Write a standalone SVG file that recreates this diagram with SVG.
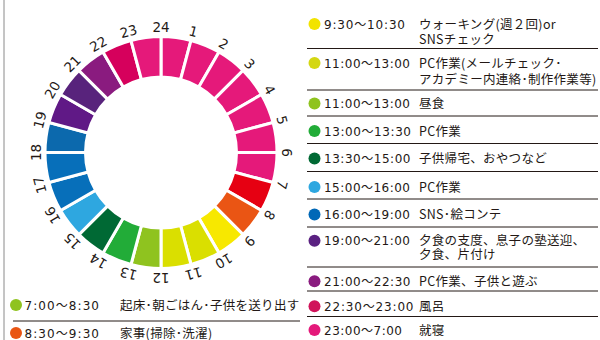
<svg xmlns="http://www.w3.org/2000/svg" xmlns:xlink="http://www.w3.org/1999/xlink" width="600" height="340" viewBox="0 0 600 340">
<style>
.lbl{font-family:"DejaVu Sans","Noto Sans CJK JP",sans-serif;font-size:13.5px;fill:#231815;text-anchor:middle}
.tm{font-family:"DejaVu Sans","Noto Sans CJK JP",sans-serif;font-size:12px;fill:#231815}
.ds{font-family:"Noto Sans CJK JP",sans-serif;font-size:12.5px;letter-spacing:0.3px;fill:#231815}
.sep{stroke:#231815;stroke-width:1;fill:none}
.seg{stroke:#fff;stroke-width:3;stroke-linejoin:miter}
</style>
<defs>
<path id="sector" d="M161,36.5 A116,116 0 0 1 191.02,40.45 L180.54,79.57 A75.5,75.5 0 0 0 161,77 Z"/>
</defs>
<rect x="0" y="0" width="600" height="340" fill="#fff"/>
<line x1="4" y1="0" x2="4" y2="340" stroke="#8a8a8a" stroke-width="1"/>
<g id="ring">
<use href="#sector" class="seg" fill="#e5197a" transform="rotate(0 161 152.5)"/>
<use href="#sector" class="seg" fill="#e5197a" transform="rotate(15 161 152.5)"/>
<use href="#sector" class="seg" fill="#e5197a" transform="rotate(30 161 152.5)"/>
<use href="#sector" class="seg" fill="#e5197a" transform="rotate(45 161 152.5)"/>
<use href="#sector" class="seg" fill="#e5197a" transform="rotate(60 161 152.5)"/>
<use href="#sector" class="seg" fill="#e5197a" transform="rotate(75 161 152.5)"/>
<use href="#sector" class="seg" fill="#e5197a" transform="rotate(90 161 152.5)"/>
<use href="#sector" class="seg" fill="#e60012" transform="rotate(105 161 152.5)"/>
<use href="#sector" class="seg" fill="#ea5514" transform="rotate(120 161 152.5)"/>
<use href="#sector" class="seg" fill="#f7e800" transform="rotate(135 161 152.5)"/>
<use href="#sector" class="seg" fill="#dadf00" transform="rotate(150 161 152.5)"/>
<use href="#sector" class="seg" fill="#dadf00" transform="rotate(165 161 152.5)"/>
<use href="#sector" class="seg" fill="#8fc31f" transform="rotate(180 161 152.5)"/>
<use href="#sector" class="seg" fill="#22ac38" transform="rotate(195 161 152.5)"/>
<use href="#sector" class="seg" fill="#006934" transform="rotate(210 161 152.5)"/>
<use href="#sector" class="seg" fill="#2ea7e0" transform="rotate(225 161 152.5)"/>
<use href="#sector" class="seg" fill="#076fba" transform="rotate(240 161 152.5)"/>
<use href="#sector" class="seg" fill="#076fba" transform="rotate(255 161 152.5)"/>
<use href="#sector" class="seg" fill="#0c69ad" transform="rotate(270 161 152.5)"/>
<use href="#sector" class="seg" fill="#601986" transform="rotate(285 161 152.5)"/>
<use href="#sector" class="seg" fill="#58237c" transform="rotate(300 161 152.5)"/>
<use href="#sector" class="seg" fill="#8a1b7f" transform="rotate(315 161 152.5)"/>
<use href="#sector" class="seg" fill="#d6005c" transform="rotate(330 161 152.5)"/>
<use href="#sector" class="seg" fill="#e5197a" transform="rotate(345 161 152.5)"/>
</g>
<g id="hour-labels">
<text class="lbl" x="161" y="32" transform="rotate(15 161 152.5)">1</text>
<text class="lbl" x="161" y="32" transform="rotate(30 161 152.5)">2</text>
<text class="lbl" x="161" y="32" transform="rotate(45 161 152.5)">3</text>
<text class="lbl" x="161" y="32" transform="rotate(60 161 152.5)">4</text>
<text class="lbl" x="161" y="32" transform="rotate(75 161 152.5)">5</text>
<text class="lbl" x="161" y="32" transform="rotate(90 161 152.5)">6</text>
<text class="lbl" x="161" y="32" transform="rotate(105 161 152.5)">7</text>
<text class="lbl" x="161" y="32" transform="rotate(120 161 152.5)">8</text>
<text class="lbl" x="161" y="32" transform="rotate(135 161 152.5)">9</text>
<text class="lbl" x="161" y="32" transform="rotate(150 161 152.5)">10</text>
<text class="lbl" x="161" y="32" transform="rotate(165 161 152.5)">11</text>
<text class="lbl" x="161" y="32" transform="rotate(180 161 152.5)">12</text>
<text class="lbl" x="161" y="32" transform="rotate(195 161 152.5)">13</text>
<text class="lbl" x="161" y="32" transform="rotate(210 161 152.5)">14</text>
<text class="lbl" x="161" y="32" transform="rotate(225 161 152.5)">15</text>
<text class="lbl" x="161" y="32" transform="rotate(240 161 152.5)">16</text>
<text class="lbl" x="161" y="32" transform="rotate(255 161 152.5)">17</text>
<text class="lbl" x="161" y="32" transform="rotate(270 161 152.5)">18</text>
<text class="lbl" x="161" y="32" transform="rotate(285 161 152.5)">19</text>
<text class="lbl" x="161" y="32" transform="rotate(300 161 152.5)">20</text>
<text class="lbl" x="161" y="32" transform="rotate(315 161 152.5)">21</text>
<text class="lbl" x="161" y="32" transform="rotate(330 161 152.5)">22</text>
<text class="lbl" x="161" y="32" transform="rotate(345 161 152.5)">23</text>
<text class="lbl" x="161" y="32">24</text>
</g>
<g id="separators">
<line class="sep" x1="307" y1="48.5" x2="598" y2="48.5"/>
<line class="sep" x1="307" y1="90" x2="598" y2="90"/>
<line class="sep" x1="307" y1="116" x2="598" y2="116"/>
<line class="sep" x1="307" y1="143.5" x2="598" y2="143.5"/>
<line class="sep" x1="307" y1="171.5" x2="598" y2="171.5"/>
<line class="sep" x1="307" y1="199" x2="598" y2="199"/>
<line class="sep" x1="307" y1="227" x2="598" y2="227"/>
<line class="sep" x1="307" y1="267" x2="598" y2="267"/>
<line class="sep" x1="307" y1="291" x2="598" y2="291"/>
<line class="sep" x1="307" y1="316.5" x2="598" y2="316.5"/>
<line class="sep" x1="13" y1="321" x2="300" y2="321"/>
</g>
<g id="item-0930">
<circle cx="314.5" cy="24" r="6" fill="#f2e300"/>
<text class="tm" x="324" y="28.5" textLength="81" lengthAdjust="spacing">9:30～10:30</text>
<text class="ds"><tspan x="419" y="28.5">ウォーキング(週２回)or</tspan><tspan x="419" y="44">SNSチェック</tspan></text>
</g>
<g id="item-1100-pc">
<circle cx="314.5" cy="63" r="6" fill="#d4d712"/>
<text class="tm" x="324" y="67.5" textLength="86" lengthAdjust="spacing">11:00～13:00</text>
<text class="ds"><tspan x="419" y="67.5">PC作業(メールチェック･</tspan><tspan x="419" y="83.5">アカデミー内連絡･制作作業等)</tspan></text>
</g>
<g id="item-1100-lunch">
<circle cx="314.5" cy="103.5" r="6" fill="#8fc31f"/>
<text class="tm" x="324" y="108" textLength="86" lengthAdjust="spacing">11:00～13:00</text>
<text class="ds" x="419" y="108">昼食</text>
</g>
<g id="item-1300">
<circle cx="314.5" cy="131" r="6" fill="#22ac38"/>
<text class="tm" x="324" y="135.5" textLength="87" lengthAdjust="spacing">13:00～13:30</text>
<text class="ds" x="419" y="135.5">PC作業</text>
</g>
<g id="item-1330">
<circle cx="314.5" cy="158.5" r="6" fill="#006934"/>
<text class="tm" x="324" y="163" textLength="86.5" lengthAdjust="spacing">13:30～15:00</text>
<text class="ds" x="419" y="163">子供帰宅、おやつなど</text>
</g>
<g id="item-1500">
<circle cx="314.5" cy="187" r="6" fill="#2ea7e0"/>
<text class="tm" x="324" y="191.5" textLength="86" lengthAdjust="spacing">15:00～16:00</text>
<text class="ds" x="419" y="191.5">PC作業</text>
</g>
<g id="item-1600">
<circle cx="314.5" cy="214.5" r="6" fill="#0068b7"/>
<text class="tm" x="324" y="219" textLength="86" lengthAdjust="spacing">16:00～19:00</text>
<text class="ds" x="419" y="219">SNS･絵コンテ</text>
</g>
<g id="item-1900">
<circle cx="314.5" cy="240.7" r="6" fill="#5a2181"/>
<text class="tm" x="324" y="245" textLength="86" lengthAdjust="spacing">19:00～21:00</text>
<text class="ds"><tspan x="419" y="244.5">夕食の支度、息子の塾送迎、</tspan><tspan x="419" y="258.5">夕食、片付け</tspan></text>
</g>
<g id="item-2100">
<circle cx="314.5" cy="281.3" r="6" fill="#8a1b7f"/>
<text class="tm" x="324" y="285.7" textLength="86.5" lengthAdjust="spacing">21:00～22:30</text>
<text class="ds" x="419" y="285.7">PC作業、子供と遊ぶ</text>
</g>
<g id="item-2230">
<circle cx="314.5" cy="306.3" r="6" fill="#d0145a"/>
<text class="tm" x="324" y="310.7" textLength="89.5" lengthAdjust="spacing">22:30～23:00</text>
<text class="ds" x="419" y="310.7">風呂</text>
</g>
<g id="item-2300">
<circle cx="314.5" cy="330" r="6" fill="#e4197a"/>
<text class="tm" x="324" y="334.5" textLength="78" lengthAdjust="spacing">23:00～7:00</text>
<text class="ds" x="419" y="334.5">就寝</text>
</g>
<g id="item-0700">
<circle cx="16" cy="305" r="6" fill="#8fc31f"/>
<text class="tm" x="24.5" y="309.5" textLength="74.5" lengthAdjust="spacing">7:00～8:30</text>
<text class="ds" x="120" y="309.5">起床･朝ごはん･子供を送り出す</text>
</g>
<g id="item-0830">
<circle cx="16" cy="333" r="6" fill="#e95513"/>
<text class="tm" x="24.5" y="337.5" textLength="74.5" lengthAdjust="spacing">8:30～9:30</text>
<text class="ds" x="120" y="337.5">家事(掃除･洗濯)</text>
</g>
</svg>
